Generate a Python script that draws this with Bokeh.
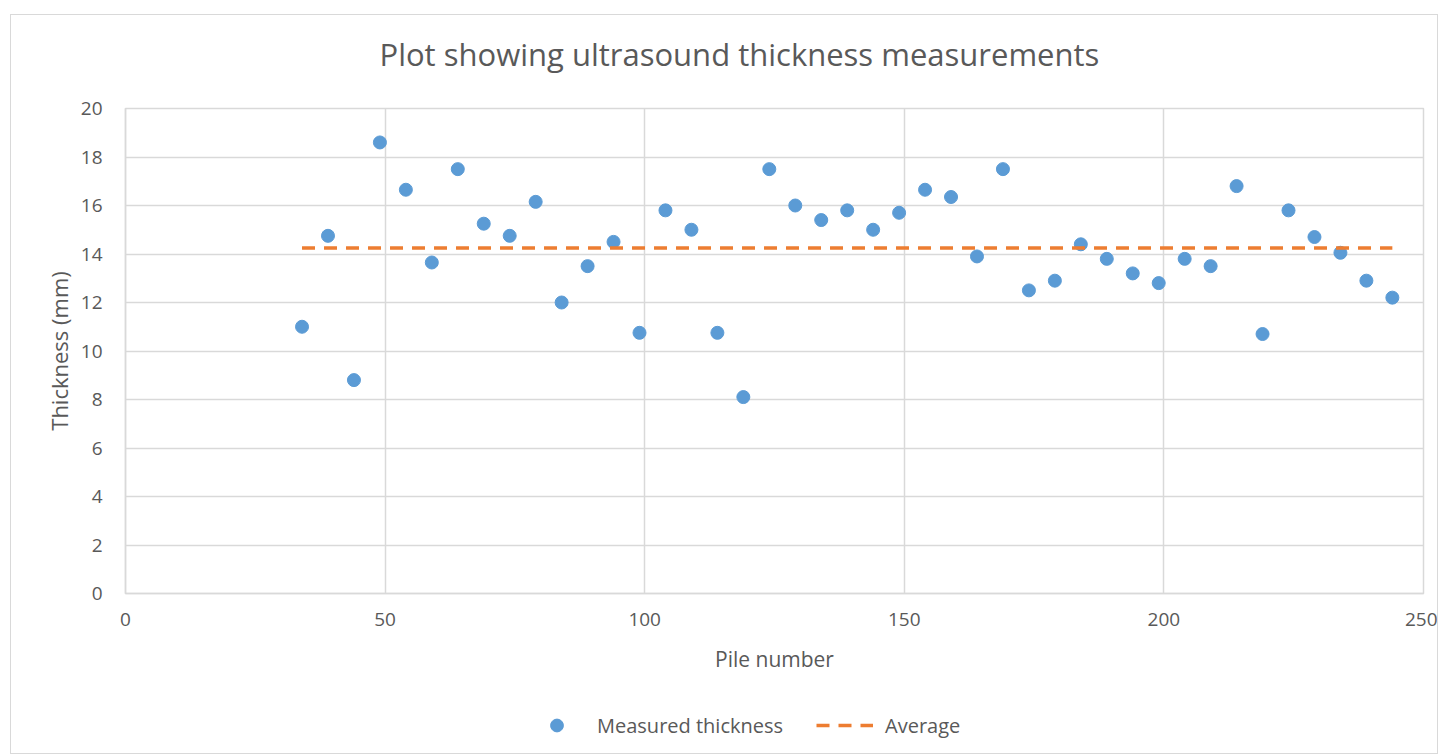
from bokeh.plotting import figure
from bokeh.layouts import column
from bokeh.models import Range1d, Legend, LegendItem, FixedTicker, Title
from bokeh.embed import file_html
from bokeh.resources import INLINE

pile_number = [34, 39, 44, 49, 54, 59, 64, 69, 74, 79, 84, 89, 94, 99, 104, 109, 114,
               119, 124, 129, 134, 139, 144, 149, 154, 159, 164, 169, 174, 179, 184,
               189, 194, 199, 204, 209, 214, 219, 224, 229, 234, 239, 244]
thickness = [11.0, 14.75, 8.8, 18.6, 16.65, 13.65, 17.5, 15.25, 14.75, 16.15, 12.0,
             13.5, 14.5, 10.75, 15.8, 15.0, 10.75, 8.1, 17.5, 16.0, 15.4, 15.8, 15.0,
             15.7, 16.65, 16.35, 13.9, 17.5, 12.5, 12.9, 14.4, 13.8, 13.2, 12.8, 13.8,
             13.5, 16.8, 10.7, 15.8, 14.7, 14.05, 12.9, 12.2]
average_x = [34, 244]
average_y = [14.25, 14.25]

x_ticks = [0, 50, 100, 150, 200, 250]
y_ticks = [0, 2, 4, 6, 8, 10, 12, 14, 16, 18, 20]

FONT = "Open Sans"
TXT = "#595959"
GRID = "#d9d9d9"
BLUE = "#5B9BD5"
ORANGE = "#ED7D31"

p = figure(width=1426, height=678, output_backend="svg", toolbar_location=None,
           x_range=Range1d(0, 250), y_range=Range1d(0, 20),
           min_border_left=114, min_border_right=14, min_border_top=93, min_border_bottom=100)

# spacer between frame and title (title is stacked outside of it)
p.add_layout(Title(text=" ", text_font_size="1px", standoff=31), "above")
p.title = Title(text="Plot showing ultrasound thickness measurements", align="left",
                offset=254, standoff=0, text_font=FONT, text_font_size="31px",
                text_font_style="normal", text_color=TXT)

p.outline_line_color = GRID
p.outline_line_width = 1.5
p.background_fill_color = "white"
p.border_fill_color = "white"

for ax in (p.xaxis, p.yaxis):
    ax.axis_line_color = GRID
    ax.axis_line_width = 1.5
    ax.major_tick_line_color = None
    ax.minor_tick_line_color = None
    ax.major_label_text_font = FONT
    ax.major_label_text_font_size = "19px"
    ax.major_label_text_color = TXT
    ax.axis_label_text_font = FONT
    ax.axis_label_text_font_style = "normal"
    ax.axis_label_text_color = TXT

p.xaxis.axis_label_text_font_size = "21px"
p.yaxis.axis_label_text_font_size = "22px"
p.xaxis.ticker = FixedTicker(ticks=x_ticks)
p.yaxis.ticker = FixedTicker(ticks=y_ticks)
p.xaxis.axis_label = "Pile number"
p.yaxis.axis_label = "Thickness (mm)"
p.xaxis.major_label_standoff = 13
p.yaxis.major_label_standoff = 17
p.xaxis.axis_label_standoff = 16
p.yaxis.axis_label_standoff = 4

p.xgrid.grid_line_color = GRID
p.ygrid.grid_line_color = GRID
p.xgrid.grid_line_width = 1.5
p.ygrid.grid_line_width = 1.5

p.scatter(pile_number, thickness, size=13, fill_color=BLUE, line_color=BLUE)
p.line(average_x, average_y, line_color=ORANGE, line_width=3.5, line_dash="13 9")

# legend strip below the chart (its own renderers lie outside its visible range)
p2 = figure(width=1426, height=60, output_backend="svg", toolbar_location=None,
            x_range=p.x_range, y_range=Range1d(100, 120),
            x_axis_type=None, y_axis_type=None, min_border=0)
p2.outline_line_color = None
p2.xgrid.visible = False
p2.ygrid.visible = False
p2.background_fill_color = "white"
p2.border_fill_color = "white"
lg_pts = p2.scatter(pile_number, thickness, size=13, fill_color=BLUE, line_color=BLUE)
lg_avg = p2.line(average_x, average_y, line_color=ORANGE, line_width=3.5, line_dash="13 9")

legend = Legend(items=[LegendItem(label="Measured thickness", renderers=[lg_pts]),
                       LegendItem(label="Average", renderers=[lg_avg])],
                orientation="horizontal", location=(403, 12),
                glyph_width=57, glyph_height=32, label_standoff=12, spacing=33,
                padding=0, margin=0, border_line_color=None, background_fill_alpha=0,
                label_text_font=FONT, label_text_font_size="20px", label_text_color=TXT)
p2.add_layout(legend, "center")

layout = column(p, p2, spacing=0)
layout.margin = (14, 0, 0, 10)
layout.styles = {"border": "1px solid #d9d9d9"}

open("out.html", "w").write(file_html(layout, INLINE))
